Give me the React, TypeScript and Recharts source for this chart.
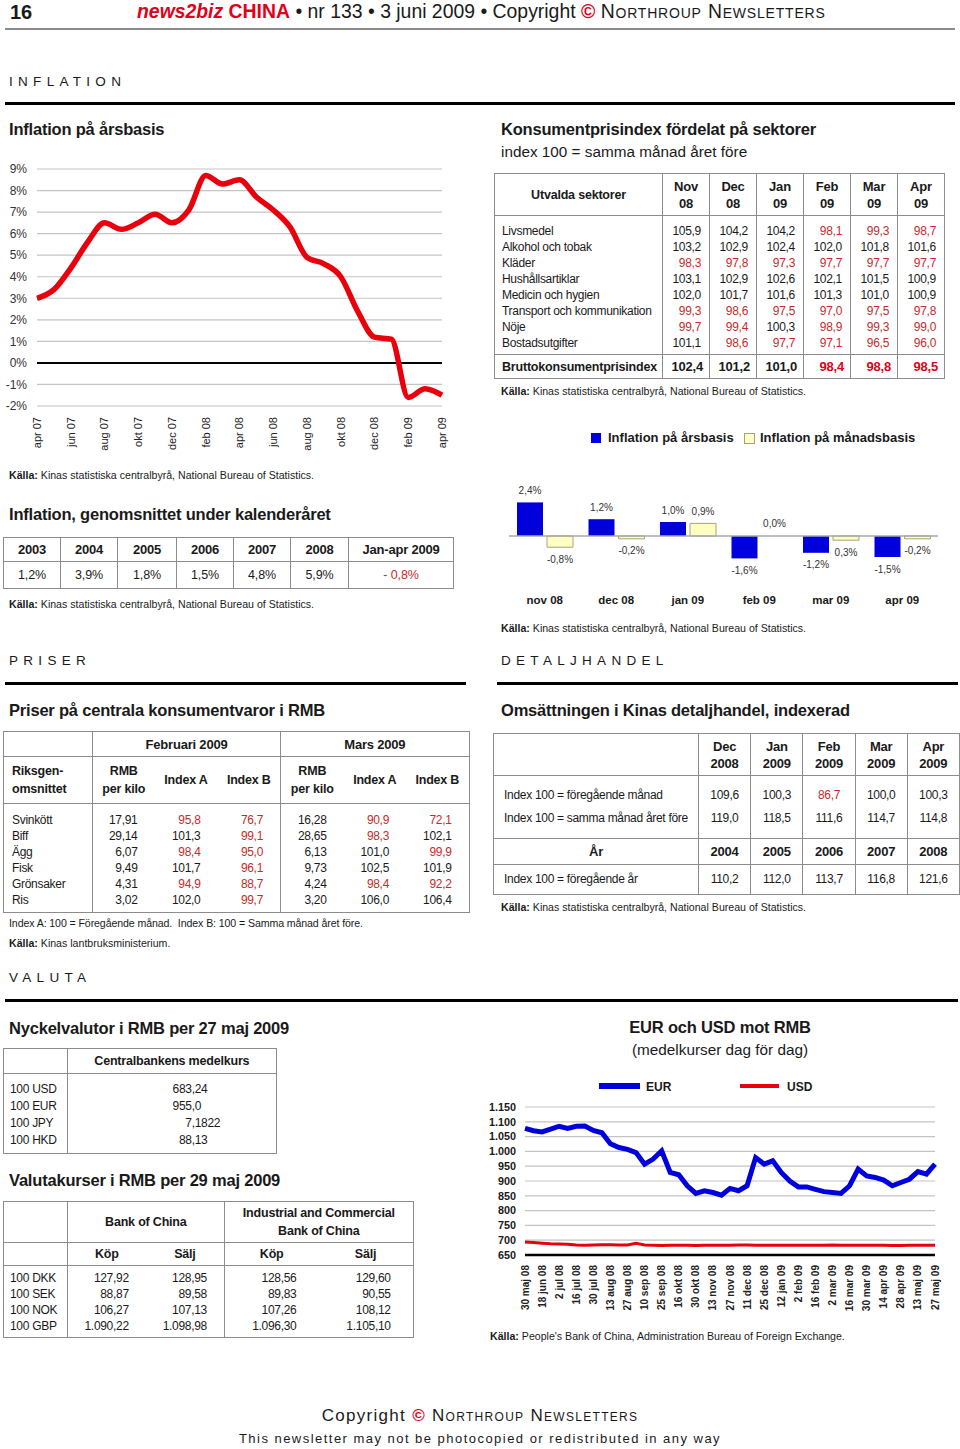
import React from 'react';
import { LineChart, Line, BarChart, Bar, Cell, XAxis, YAxis, CartesianGrid, ReferenceLine, LabelList } from 'recharts';

const FONT = '"Liberation Sans", Arial, sans-serif';
const RED = '#c92a2a';
const BRIGHT = '#e2001a';
const BORDER = '1.5px solid #8c8c8c';

// Inflation på årsbasis (%)
const inflMonths = ['apr 07', 'maj 07', 'jun 07', 'jul 07', 'aug 07', 'sep 07', 'okt 07', 'nov 07', 'dec 07', 'jan 08', 'feb 08', 'mar 08', 'apr 08', 'maj 08', 'jun 08', 'jul 08', 'aug 08', 'sep 08', 'okt 08', 'nov 08', 'dec 08', 'jan 09', 'feb 09', 'mar 09', 'apr 09'];
const inflYoY = [3.0, 3.4, 4.4, 5.6, 6.5, 6.2, 6.5, 6.9, 6.5, 7.1, 8.7, 8.3, 8.5, 7.7, 7.1, 6.3, 4.9, 4.6, 4.0, 2.4, 1.2, 1.1, -1.6, -1.2, -1.5];
const inflTicks = [-2, -1, 0, 1, 2, 3, 4, 5, 6, 7, 8, 9];

// Konsumentprisindex per sektor
const cpiMonths = [['Nov', '08'], ['Dec', '08'], ['Jan', '09'], ['Feb', '09'], ['Mar', '09'], ['Apr', '09']];
const cpiSectors = ['Livsmedel', 'Alkohol och tobak', 'Kläder', 'Hushållsartiklar', 'Medicin och hygien', 'Transport och kommunikation', 'Nöje', 'Bostadsutgifter'];
const cpiValues = [
  [105.9, 104.2, 104.2, 98.1, 99.3, 98.7],
  [103.2, 102.9, 102.4, 102.0, 101.8, 101.6],
  [98.3, 97.8, 97.3, 97.7, 97.7, 97.7],
  [103.1, 102.9, 102.6, 102.1, 101.5, 100.9],
  [102.0, 101.7, 101.6, 101.3, 101.0, 100.9],
  [99.3, 98.6, 97.5, 97.0, 97.5, 97.8],
  [99.7, 99.4, 100.3, 98.9, 99.3, 99.0],
  [101.1, 98.6, 97.7, 97.1, 96.5, 96.0],
];
const cpiTotal = [102.4, 101.2, 101.0, 98.4, 98.8, 98.5];

// Års- och månadsinflation
const barCats = ['nov 08', 'dec 08', 'jan 09', 'feb 09', 'mar 09', 'apr 09'];
const yoyVals = [2.4, 1.2, 1.0, -1.6, -1.2, -1.5];
const momVals = [-0.8, -0.2, 0.9, 0.0, -0.3, -0.2];
const yoyLabels = ['2,4%', '1,2%', '1,0%', '-1,6%', '-1,2%', '-1,5%'];
const momLabels = ['-0,8%', '-0,2%', '0,9%', '0,0%', '0,3%', '-0,2%'];

// Genomsnittlig inflation
const avgYears = ['2003', '2004', '2005', '2006', '2007', '2008', 'Jan-apr 2009'];
const avgVals = [1.2, 3.9, 1.8, 1.5, 4.8, 5.9, -0.8];

// Priser
const priceItems = ['Svinkött', 'Biff', 'Ägg', 'Fisk', 'Grönsaker', 'Ris'];
const febRmb = [17.91, 29.14, 6.07, 9.49, 4.31, 3.02];
const febA = [95.8, 101.3, 98.4, 101.7, 94.9, 102.0];
const febB = [76.7, 99.1, 95.0, 96.1, 88.7, 99.7];
const marRmb = [16.28, 28.65, 6.13, 9.73, 4.24, 3.20];
const marA = [90.9, 98.3, 101.0, 102.5, 98.4, 106.0];
const marB = [72.1, 102.1, 99.9, 101.9, 92.2, 106.4];

// Detaljhandel
const retailMonths = [['Dec', '2008'], ['Jan', '2009'], ['Feb', '2009'], ['Mar', '2009'], ['Apr', '2009']];
const retailMom = [109.6, 100.3, 86.7, 100.0, 100.3];
const retailYoy = [119.0, 118.5, 111.6, 114.7, 114.8];
const retailYears = ['2004', '2005', '2006', '2007', '2008'];
const retailYearly = [110.2, 112.0, 113.7, 116.8, 121.6];

// Valuta
const keyCur = ['100 USD', '100 EUR', '100 JPY', '100 HKD'];
const keyRate = ['683,24', '955,0', '7,1822', '88,13'];
const fxCur = ['100 DKK', '100 SEK', '100 NOK', '100 GBP'];
const bocBuy = ['127,92', '88,87', '106,27', '1.090,22'];
const bocSell = ['128,95', '89,58', '107,13', '1.098,98'];
const icbcBuy = ['128,56', '89,83', '107,26', '1.096,30'];
const icbcSell = ['129,60', '90,55', '108,12', '1.105,10'];

// EUR och USD mot RMB
const fxDates = ['30 maj 08', '6 jun 08', '18 jun 08', '25 jun 08', '2 jul 08', '9 jul 08', '16 jul 08', '23 jul 08', '30 jul 08', '6 aug 08', '13 aug 08', '20 aug 08', '27 aug 08', '3 sep 08', '10 sep 08', '18 sep 08', '25 sep 08', '9 okt 08', '16 okt 08', '23 okt 08', '30 okt 08', '6 nov 08', '13 nov 08', '20 nov 08', '27 nov 08', '4 dec 08', '11 dec 08', '18 dec 08', '25 dec 08', '5 jan 09', '12 jan 09', '19 jan 09', '2 feb 09', '9 feb 09', '16 feb 09', '23 feb 09', '2 mar 09', '9 mar 09', '16 mar 09', '23 mar 09', '30 mar 09', '7 apr 09', '14 apr 09', '21 apr 09', '28 apr 09', '6 maj 09', '13 maj 09', '20 maj 09', '27 maj 09'];
const eurRate = [1078, 1070, 1066, 1075, 1085, 1078, 1085, 1086, 1071, 1063, 1026, 1013, 1007, 996, 957, 974, 1002, 929, 921, 884, 858, 867, 861, 852, 875, 867, 884, 979, 957, 968, 929, 900, 880, 880, 872, 864, 861, 858, 884, 940, 917, 912, 903, 884, 895, 906, 932, 923, 957];
const usdRate = [694, 692, 690, 688, 687, 686, 684, 683, 684, 685, 685, 684, 684, 690, 684, 683, 682, 683, 683, 683, 682, 683, 683, 683, 683, 684, 684, 683, 683, 683, 683, 683, 683, 683, 683, 683, 684, 683, 683, 683, 683, 683, 683, 682, 682, 683, 683, 683, 683];
const fxTicks = [650, 700, 750, 800, 850, 900, 950, 1000, 1050, 1100, 1150];

const inflData = inflMonths.map((m, i) => ({ m, v: inflYoY[i] }));
const barData = barCats.map((c, i) => ({ c, yoy: yoyVals[i], mom: momVals[i], yoyLbl: yoyLabels[i], momLbl: momLabels[i] }));
const fxData = fxDates.map((d, i) => ({ d, eur: eurRate[i], usd: usdRate[i] }));

const f1 = (v: number) => v.toFixed(1).replace('.', ',');
const f2 = (v: number) => v.toFixed(2).replace('.', ',');
const thousands = (v: number) => (v >= 1000 ? `${Math.floor(v / 1000)}.${String(v % 1000).padStart(3, '0')}` : `${v}`);

const T = ({ x, y, s = 13, b = false, c = '#1a1a1a', center = false, ls, style = {}, children }: any) => (
  <div
    style={{
      position: 'absolute', left: x, top: y - s * 0.7, fontSize: s, lineHeight: `${s * 1.4}px`,
      fontWeight: b ? 700 : 400, color: c, whiteSpace: 'nowrap', letterSpacing: ls,
      transform: center ? 'translateX(-50%)' : undefined, ...style,
    }}
  >
    {children}
  </div>
);

const Title = ({ x, y, children }: any) => <T x={x} y={y} s={16.5} b ls={-0.2}>{children}</T>;

const Rule = ({ x, y, w, h = 3, c = '#000' }: any) => (
  <div style={{ position: 'absolute', left: x, top: y, width: w, height: h, background: c }} />
);

const Source = ({ x, y, children }: any) => (
  <T x={x} y={y} s={10.6}><b>Källa:</b> {children}</T>
);

const RotTick = ({ x, y, payload, size, bold, off }: any) => (
  <g transform={`translate(${x},${y})`}>
    <text transform="rotate(-90)" x={-off} y={0} dy="0.35em" textAnchor="end" fontSize={size} fontWeight={bold ? 700 : 400} fill="#222">
      {payload.value}
    </text>
  </g>
);

// zero line of the bar chart, in chart pixels (margin top 10 + 4 units * 14px)
const BAR_ZERO = 66;
const barLabel = (p: any) => {
  const { x, y, width, height, value } = p;
  const top = Math.min(y, y + height);
  const bot = Math.max(y, y + height);
  const cy = bot > BAR_ZERO + 0.8 ? bot + 12 : top - 12;
  return (
    <text x={x + width / 2} y={cy} dy="0.35em" textAnchor="middle" fontSize={10} fill="#333">
      {value}
    </text>
  );
};

const td = (extra: any = {}) => ({ padding: 0, ...extra });
const tableBase = { position: 'absolute' as const, borderCollapse: 'collapse' as const, tableLayout: 'fixed' as const, border: BORDER, fontSize: 12, letterSpacing: -0.3, whiteSpace: 'nowrap' as const };
const HEAD = { fontWeight: 700, fontSize: 12.5, letterSpacing: -0.2 };

function InflationChart() {
  return (
    <div style={{ position: 'absolute', left: 0, top: 150 }}>
      <LineChart width={460} height={312} data={inflData} margin={{ top: 19, right: 18, left: 0, bottom: 0 }}>
        <CartesianGrid vertical={false} stroke="#c4c4c4" strokeWidth={1.2} />
        <XAxis dataKey="m" interval={1} axisLine={false} tickLine={false} tickSize={0} tickMargin={0} height={56}
          tick={(p: any) => <RotTick {...p} size={11} off={11} />} />
        <YAxis domain={[-2, 9]} ticks={inflTicks} interval={0} tickFormatter={(v) => `${v}%`} width={37} axisLine={false} tickLine={false}
          tickSize={0} tickMargin={10} tick={{ fontSize: 12, fill: '#333' }} />
        <ReferenceLine y={0} stroke="#000" strokeWidth={2} />
        <Line dataKey="v" type="monotone" stroke="#e8000d" strokeWidth={5.5} dot={false} isAnimationActive={false} />
      </LineChart>
    </div>
  );
}

function MonthlyBars() {
  return (
    <div style={{ position: 'absolute', left: 490, top: 470 }}>
      <BarChart width={470} height={141} data={barData} margin={{ top: 10, right: 22, left: 19, bottom: 0 }} barCategoryGap={8} barGap={4}>
        <XAxis dataKey="c" axisLine={false} tickLine={false} tickSize={0} tickMargin={0} height={40} interval={0}
          tick={(p: any) => (
            <text x={p.x} y={p.y + 29} dy="0.35em" textAnchor="middle" fontSize={11.5} fontWeight={700} fill="#1a1a1a">{p.payload.value}</text>
          )} />
        <YAxis hide domain={[-2.5, 4]} />
        <ReferenceLine y={0} stroke="#a8a8a8" strokeWidth={1.5} />
        <Bar dataKey="yoy" fill="#0000dc" minPointSize={0.3} isAnimationActive={false}>
          <LabelList dataKey="yoyLbl" content={barLabel} />
        </Bar>
        <Bar dataKey="mom" fill="#ffffc4" minPointSize={0.3} isAnimationActive={false}>
          {momVals.map((v, i) => (
            <Cell key={i} stroke={v === 0 ? 'none' : '#a4a47a'} strokeWidth={1} />
          ))}
          <LabelList dataKey="momLbl" content={barLabel} />
        </Bar>
      </BarChart>
    </div>
  );
}

function FxChart() {
  return (
    <div style={{ position: 'absolute', left: 480, top: 1065 }}>
      <LineChart width={470} height={262} data={fxData} margin={{ top: 42, right: 15, left: 0, bottom: 0 }}>
        <CartesianGrid vertical={false} stroke="#c4c4c4" strokeWidth={1.2} />
        <XAxis dataKey="d" interval={1} axisLine={{ stroke: '#000', strokeWidth: 2.5 }} tickLine={false} tickSize={0} tickMargin={0} height={72}
          tick={(p: any) => <RotTick {...p} size={10} bold off={10} />} />
        <YAxis domain={[650, 1150]} ticks={fxTicks} interval={0} tickFormatter={thousands} width={45} axisLine={false} tickLine={false}
          tickSize={0} tickMargin={9} tick={{ fontSize: 10.8, fontWeight: 700, fill: '#1a1a1a' }} />
        <Line dataKey="usd" type="linear" stroke="#e8000d" strokeWidth={3} dot={false} isAnimationActive={false} />
        <Line dataKey="eur" type="linear" stroke="#0000dc" strokeWidth={5} dot={false} isAnimationActive={false} />
      </LineChart>
    </div>
  );
}

function CpiTable() {
  const last = cpiSectors.length - 1;
  return (
    <table style={{ ...tableBase, left: 494, top: 173, width: 450 }}>
      <colgroup>
        <col style={{ width: 168 }} />
        {cpiMonths.map((_, i) => <col key={i} style={{ width: 47 }} />)}
      </colgroup>
      <tbody>
        <tr style={{ height: 42 }}>
          <td style={td({ ...HEAD, borderBottom: BORDER, textAlign: 'center' })}>Utvalda sektorer</td>
          {cpiMonths.map(([m, y], i) => (
            <td key={i} style={td({ ...HEAD, fontSize: 13, borderLeft: BORDER, borderBottom: BORDER, textAlign: 'center', lineHeight: '17px' })}>
              {m}<br />{y}
            </td>
          ))}
        </tr>
        {cpiSectors.map((s, r) => {
          const h = r === 0 ? 23 : r === last ? 20 : 16;
          const va = r === 0 ? 'bottom' : 'top';
          return (
            <tr key={s} style={{ height: h }}>
              <td style={td({ paddingLeft: 7, verticalAlign: va, lineHeight: '16px' })}>{s}</td>
              {cpiValues[r].map((v, i) => (
                <td key={i} style={td({ borderLeft: BORDER, textAlign: 'right', paddingRight: 8, verticalAlign: va, lineHeight: '16px', color: v < 100 ? RED : '#1a1a1a' })}>{f1(v)}</td>
              ))}
            </tr>
          );
        })}
        <tr style={{ height: 24 }}>
          <td style={td({ ...HEAD, borderTop: BORDER, paddingLeft: 7 })}>Bruttokonsumentprisindex</td>
          {cpiTotal.map((v, i) => (
            <td key={i} style={td({ ...HEAD, fontSize: 13, borderTop: BORDER, borderLeft: BORDER, textAlign: 'right', paddingRight: 6, color: v < 100 ? BRIGHT : '#1a1a1a' })}>{f1(v)}</td>
          ))}
        </tr>
      </tbody>
    </table>
  );
}

function AvgTable() {
  const widths = [57, 57, 59, 57, 57, 58, 105];
  return (
    <table style={{ ...tableBase, left: 3, top: 537, width: 450, fontSize: 12.5, letterSpacing: -0.1 }}>
      <colgroup>{widths.map((w, i) => <col key={i} style={{ width: w }} />)}</colgroup>
      <tbody>
        <tr style={{ height: 24 }}>
          {avgYears.map((y, i) => (
            <td key={y} style={td({ ...HEAD, fontSize: 13, textAlign: 'center', borderBottom: BORDER, borderLeft: i ? BORDER : undefined })}>{y}</td>
          ))}
        </tr>
        <tr style={{ height: 27 }}>
          {avgVals.map((v, i) => (
            <td key={i} style={td({ textAlign: 'center', borderLeft: i ? BORDER : undefined, color: v < 0 ? RED : '#1a1a1a' })}>
              {v < 0 ? `- ${f1(-v)}%` : `${f1(v)}%`}
            </td>
          ))}
        </tr>
      </tbody>
    </table>
  );
}

function PriceTable() {
  const widths = [89, 62, 63, 63, 63, 62.5, 63];
  const cols = [febRmb, febA, febB, marRmb, marA, marB];
  const last = priceItems.length - 1;
  const subHead = (k: string) => [
    <td key={k + 'r'} style={td({ ...HEAD, textAlign: 'center', lineHeight: '18px', borderLeft: BORDER, borderBottom: BORDER })}>RMB<br />per kilo</td>,
    <td key={k + 'a'} style={td({ ...HEAD, textAlign: 'center', borderBottom: BORDER })}>Index A</td>,
    <td key={k + 'b'} style={td({ ...HEAD, textAlign: 'center', borderBottom: BORDER })}>Index B</td>,
  ];
  return (
    <table style={{ ...tableBase, left: 3, top: 731, width: 465 }}>
      <colgroup>{widths.map((w, i) => <col key={i} style={{ width: w }} />)}</colgroup>
      <tbody>
        <tr style={{ height: 25 }}>
          <td style={td({ borderBottom: BORDER })} />
          <td colSpan={3} style={td({ ...HEAD, fontSize: 13, borderLeft: BORDER, borderBottom: BORDER, textAlign: 'center' })}>Februari 2009</td>
          <td colSpan={3} style={td({ ...HEAD, fontSize: 13, borderLeft: BORDER, borderBottom: BORDER, textAlign: 'center' })}>Mars 2009</td>
        </tr>
        <tr style={{ height: 47 }}>
          <td style={td({ ...HEAD, paddingLeft: 8, lineHeight: '18px', borderBottom: BORDER })}>Riksgen-<br />omsnittet</td>
          {subHead('f')}
          {subHead('m')}
        </tr>
        {priceItems.map((it, r) => {
          const h = r === 0 ? 24 : r === last ? 21 : 16;
          const va = r === 0 ? 'bottom' : 'top';
          return (
            <tr key={it} style={{ height: h }}>
              <td style={td({ paddingLeft: 8, verticalAlign: va, lineHeight: '16px' })}>{it}</td>
              {cols.map((col, c) => {
                const v = col[r];
                const isRmb = c === 0 || c === 3;
                return (
                  <td key={c} style={td({
                    textAlign: 'right', paddingRight: 17, verticalAlign: va, lineHeight: '16px',
                    borderLeft: isRmb ? BORDER : undefined,
                    color: !isRmb && v < 100 ? RED : '#1a1a1a',
                  })}>{isRmb ? f2(v) : f1(v)}</td>
                );
              })}
            </tr>
          );
        })}
      </tbody>
    </table>
  );
}

function RetailTable() {
  const widths = [205, 52.2, 52.2, 52.2, 52.2, 52.2];
  const row = (label: string, vals: number[], h: number, va: string, red: boolean) => (
    <tr style={{ height: h }}>
      <td style={td({ paddingLeft: 10, verticalAlign: va, lineHeight: '23px' })}>{label}</td>
      {vals.map((v, i) => (
        <td key={i} style={td({ borderLeft: BORDER, textAlign: 'center', verticalAlign: va, lineHeight: '23px', color: red && v < 100 ? RED : '#1a1a1a' })}>{f1(v)}</td>
      ))}
    </tr>
  );
  return (
    <table style={{ ...tableBase, left: 493, top: 733, width: 466 }}>
      <colgroup>{widths.map((w, i) => <col key={i} style={{ width: w }} />)}</colgroup>
      <tbody>
        <tr style={{ height: 42 }}>
          <td style={td({ borderBottom: BORDER })} />
          {retailMonths.map(([m, y], i) => (
            <td key={i} style={td({ ...HEAD, fontSize: 13, borderLeft: BORDER, borderBottom: BORDER, textAlign: 'center', lineHeight: '17px' })}>{m}<br />{y}</td>
          ))}
        </tr>
        {row('Index 100 = föregående månad', retailMom, 31.5, 'bottom', true)}
        {row('Index 100 = samma månad året före', retailYoy, 31, 'top', false)}
        <tr style={{ height: 26 }}>
          <td style={td({ ...HEAD, fontSize: 13, borderTop: BORDER, borderBottom: BORDER, textAlign: 'center' })}>År</td>
          {retailYears.map((y) => (
            <td key={y} style={td({ ...HEAD, fontSize: 13, borderTop: BORDER, borderBottom: BORDER, borderLeft: BORDER, textAlign: 'center' })}>{y}</td>
          ))}
        </tr>
        <tr style={{ height: 30 }}>
          <td style={td({ paddingLeft: 10 })}>Index 100 = föregående år</td>
          {retailYearly.map((v, i) => (
            <td key={i} style={td({ borderLeft: BORDER, textAlign: 'center' })}>{f1(v)}</td>
          ))}
        </tr>
      </tbody>
    </table>
  );
}

function KeyRateTable() {
  const last = keyCur.length - 1;
  return (
    <table style={{ ...tableBase, left: 3, top: 1048, width: 273 }}>
      <colgroup><col style={{ width: 63.7 }} /><col style={{ width: 209.3 }} /></colgroup>
      <tbody>
        <tr style={{ height: 25 }}>
          <td style={td({ borderBottom: BORDER })} />
          <td style={td({ ...HEAD, borderLeft: BORDER, borderBottom: BORDER, textAlign: 'center' })}>Centralbankens medelkurs</td>
        </tr>
        {keyCur.map((c, r) => {
          const h = r === 0 ? 24.5 : r === last ? 21 : 17;
          const va = r === 0 ? 'bottom' : 'top';
          const [ip, dp] = keyRate[r].split(',');
          return (
            <tr key={c} style={{ height: h }}>
              <td style={td({ paddingLeft: 6, verticalAlign: va, lineHeight: '17px' })}>{c}</td>
              <td style={td({ borderLeft: BORDER, verticalAlign: va, lineHeight: '17px' })}>
                <span style={{ display: 'inline-block', width: 124, textAlign: 'right' }}>{ip}</span>,{dp}
              </td>
            </tr>
          );
        })}
      </tbody>
    </table>
  );
}

function FxTable() {
  const widths = [63.7, 78.6, 78.7, 94, 94.7];
  const last = fxCur.length - 1;
  const cols = [bocBuy, bocSell, icbcBuy, icbcSell];
  const pads = [17, 17, 22, 22];
  return (
    <table style={{ ...tableBase, left: 3, top: 1201, width: 410 }}>
      <colgroup>{widths.map((w, i) => <col key={i} style={{ width: w }} />)}</colgroup>
      <tbody>
        <tr style={{ height: 41 }}>
          <td style={td({ borderBottom: BORDER })} />
          <td colSpan={2} style={td({ ...HEAD, borderLeft: BORDER, borderBottom: BORDER, textAlign: 'center' })}>Bank of China</td>
          <td colSpan={2} style={td({ ...HEAD, borderLeft: BORDER, borderBottom: BORDER, textAlign: 'center', lineHeight: '18px' })}>Industrial and Commercial<br />Bank of China</td>
        </tr>
        <tr style={{ height: 23 }}>
          <td style={td({ borderBottom: BORDER })} />
          {['Köp', 'Sälj', 'Köp', 'Sälj'].map((h, i) => (
            <td key={i} style={td({ ...HEAD, borderBottom: BORDER, borderLeft: i === 0 || i === 2 ? BORDER : undefined, textAlign: 'center' })}>{h}</td>
          ))}
        </tr>
        {fxCur.map((c, r) => {
          const h = r === 0 ? 20 : r === last ? 20 : 16;
          const va = r === 0 ? 'bottom' : 'top';
          return (
            <tr key={c} style={{ height: h }}>
              <td style={td({ paddingLeft: 6, verticalAlign: va, lineHeight: '16px' })}>{c}</td>
              {cols.map((col, i) => (
                <td key={i} style={td({ borderLeft: i === 0 || i === 2 ? BORDER : undefined, textAlign: 'right', paddingRight: pads[i], verticalAlign: va, lineHeight: '16px' })}>{col[r]}</td>
              ))}
            </tr>
          );
        })}
      </tbody>
    </table>
  );
}

const Spaced = ({ x, y, children }: any) => (
  <T x={x} y={y} s={13.5} ls={5.3}>{children}</T>
);

export default function App() {
  return (
    <div style={{ position: 'absolute', left: 0, top: 0, width: 960, height: 1449, background: '#fff', fontFamily: FONT, color: '#1a1a1a', overflow: 'hidden' }}>
      {/* header */}
      <T x={10} y={12} s={20} b>16</T>
      <T x={137} y={12} s={19.4}>
        <span style={{ color: BRIGHT, fontWeight: 700, fontStyle: 'italic' }}>news2biz</span>{' '}
        <span style={{ color: BRIGHT, fontWeight: 700 }}>CHINA</span>{' '}
        • nr 133 • 3 juni 2009 • Copyright{' '}
        <span style={{ color: BRIGHT, fontWeight: 700 }}>©</span>{' '}
        <span style={{ fontVariant: 'small-caps', letterSpacing: 0.8 }}>Northroup Newsletters</span>
      </T>
      <Rule x={5} y={28} w={950} h={2} c="#8a8a8a" />

      <Spaced x={9} y={82}>INFLATION</Spaced>
      <Rule x={5} y={102} w={950} />

      {/* inflation line */}
      <Title x={9} y={130}>Inflation på årsbasis</Title>
      <InflationChart />
      <Source x={9} y={475}>Kinas statistiska centralbyrå, National Bureau of Statistics.</Source>

      {/* cpi table */}
      <Title x={501} y={130}>Konsumentprisindex fördelat på sektorer</Title>
      <T x={501} y={152} s={15.3}>index 100 = samma månad året före</T>
      <CpiTable />
      <Source x={501} y={391}>Kinas statistiska centralbyrå, National Bureau of Statistics.</Source>

      {/* bars */}
      <div style={{ position: 'absolute', left: 591, top: 433, width: 10, height: 10, background: '#0000dc' }} />
      <T x={608} y={438} s={13} b>Inflation på årsbasis</T>
      <div style={{ position: 'absolute', left: 744, top: 433, width: 9, height: 9, background: '#ffffc4', border: '1px solid #a4a47a' }} />
      <T x={760} y={438} s={13} b>Inflation på månadsbasis</T>
      <MonthlyBars />
      <Source x={501} y={628}>Kinas statistiska centralbyrå, National Bureau of Statistics.</Source>

      {/* average */}
      <Title x={9} y={515}>Inflation, genomsnittet under kalenderåret</Title>
      <AvgTable />
      <Source x={9} y={604}>Kinas statistiska centralbyrå, National Bureau of Statistics.</Source>

      <Spaced x={9} y={661}>PRISER</Spaced>
      <Rule x={5} y={682} w={461} />
      <Spaced x={501} y={661}>DETALJHANDEL</Spaced>
      <Rule x={497} y={682} w={461} />

      <Title x={9} y={711}>Priser på centrala konsumentvaror i RMB</Title>
      <PriceTable />
      <T x={9} y={923} s={10.6} ls={-0.1}>Index A: 100 = Föregående månad.&nbsp; Index B: 100 = Samma månad året före.</T>
      <Source x={9} y={943}>Kinas lantbruksministerium.</Source>

      <Title x={501} y={711}>Omsättningen i Kinas detaljhandel, indexerad</Title>
      <RetailTable />
      <Source x={501} y={907}>Kinas statistiska centralbyrå, National Bureau of Statistics.</Source>

      <Spaced x={9} y={978}>VALUTA</Spaced>
      <Rule x={5} y={999} w={953} />

      <Title x={9} y={1029}>Nyckelvalutor i RMB per 27 maj 2009</Title>
      <KeyRateTable />
      <Title x={9} y={1181}>Valutakurser i RMB per 29 maj 2009</Title>
      <FxTable />

      <T x={720} y={1028} s={16.5} b ls={-0.2} center>EUR och USD mot RMB</T>
      <T x={720} y={1050} s={15.3} center>(medelkurser dag för dag)</T>
      <div style={{ position: 'absolute', left: 599, top: 1083, width: 41, height: 6, background: '#0000dc' }} />
      <T x={646} y={1087} s={12} b>EUR</T>
      <div style={{ position: 'absolute', left: 740, top: 1084, width: 39, height: 4, background: '#e8000d' }} />
      <T x={787} y={1087} s={12} b>USD</T>
      <FxChart />
      <Source x={490} y={1336}>People's Bank of China, Administration Bureau of Foreign Exchange.</Source>

      {/* footer */}
      <T x={480} y={1416} s={17} center ls={1.3}>
        Copyright <span style={{ color: BRIGHT, fontWeight: 700 }}>©</span>{' '}
        <span style={{ fontVariant: 'small-caps' }}>Northroup Newsletters</span>
      </T>
      <T x={480} y={1439} s={13} center ls={1.47}>
        This newsletter may not be photocopied or redistributed in any way
      </T>
    </div>
  );
}
